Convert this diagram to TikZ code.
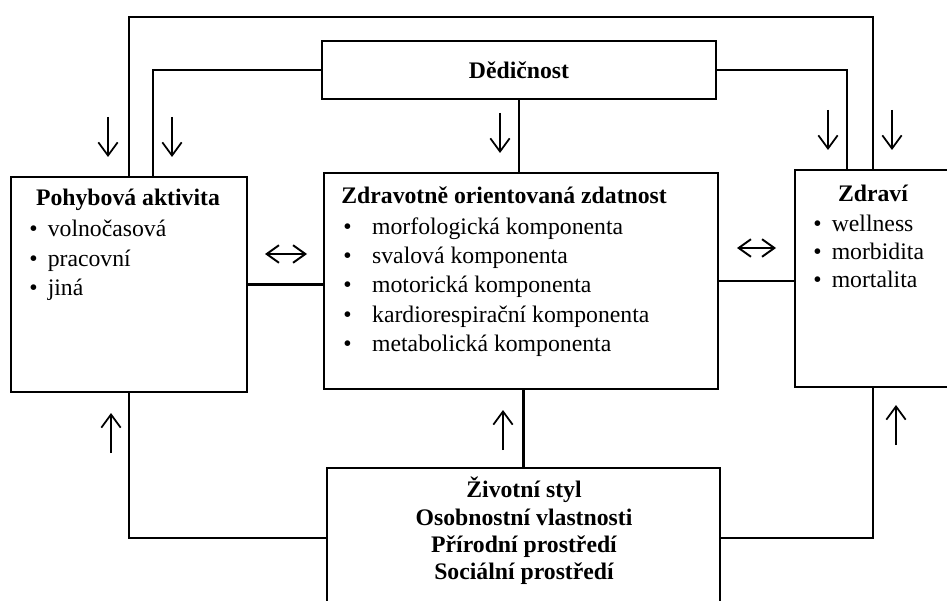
\documentclass[tikz,border=0pt]{standalone}
\usepackage{fontspec}
\setmainfont{Liberation Serif}
\usepackage{tikz}
\usetikzlibrary{arrows.meta,calc}

\tikzset{
  box/.style={draw, rectangle, line width=1.3pt, inner sep=0pt},
  txt/.style={inner sep=0pt, font=\fontsize{13.5}{16.7}\selectfont},
  nadpis/.style={inner sep=0pt, font=\fontsize{13.5}{16.7}\selectfont\bfseries},
  spoj/.style={line width=1.3pt},
  sipka/.style={line width=1pt, -{Straight Barb[length=7.5pt,width=11pt]}},
  obousipka/.style={line width=1.1pt,
    {Straight Barb[length=7pt,width=10pt]}-{Straight Barb[length=7pt,width=10pt]}}
}
\newcommand{\odr}{\makebox[10.5pt][l]{\textbullet}}
\newcommand{\odrs}{\makebox[16.4pt][l]{\textbullet}}

\begin{document}
\begin{tikzpicture}[x=0.02cm, y=-0.02cm]
    \useasboundingbox (0,0) rectangle (947,601);
    \clip (0,0) rectangle (947,601);

    % boxes
    \node[box, minimum width=7.88cm, minimum height=1.16cm, font=\fontsize{13.5}{16.7}\selectfont\bfseries]
        (dedic) at (519,70) {Dědičnost};
    \node[box, minimum width=4.72cm, minimum height=4.30cm] (pohyb) at (129,284.5) {};
    \node[box, minimum width=7.88cm, minimum height=4.32cm] (zdatnost) at (521,281) {};
    \node[box, minimum width=3.12cm, minimum height=4.34cm] (zdravi) at (873,278.5) {};
    \node[box, minimum width=7.86cm, minimum height=2.80cm] (styl) at (523.5,538) {};

    % texts
    \node[nadpis] (pohybT) at (128,200) {Pohybová aktivita};
    \node[txt, align=left, anchor=north west] (pohybL) at (29,220)
        {\odr volnočasová\\ \odr pracovní\\ \odr jiná};
    \node[nadpis, anchor=west] (zdatnostT) at (341,195) {Zdravotně orientovaná zdatnost};
    \node[txt, align=left, anchor=north west] (zdatnostL) at (343,217)
        {\odrs morfologická komponenta\\ \odrs svalová komponenta\\
         \odrs motorická komponenta\\ \odrs kardiorespirační komponenta\\
         \odrs metabolická komponenta};
    \node[nadpis] (zdraviT) at (873,193) {Zdraví};
    \node[txt, align=left, anchor=north west, font=\fontsize{13.5}{15.9}\selectfont]
        (zdraviL) at (813,215) {\odr wellness\\ \odr morbidita\\ \odr mortalita};
    \node[nadpis, align=center, font=\fontsize{13.5}{15.6}\selectfont\bfseries] (stylT) at (524,531)
        {Životní styl\\ Osobnostní vlastnosti\\ Přírodní prostředí\\ Sociální prostředí};

    % connectors
    \draw[spoj] (pohyb.north) -- ++(0,-159) -| (zdravi.north);
    \draw[spoj] ($(pohyb.north)+(24,0)$) |- (dedic.west);
    \draw[spoj] ($(zdravi.north)+(-26,0)$) |- (dedic.east);
    \draw[spoj] (dedic.south) -- (dedic.south |- zdatnost.north);
    \draw[spoj] (pohyb.east) -- (pohyb.east -| zdatnost.west);
    \draw[spoj] (zdatnost.east) -- (zdatnost.east -| zdravi.west);
    \draw[spoj] (styl.west) -| (pohyb.south);
    \draw[spoj] (styl.north) -- (styl.north |- zdatnost.south);
    \draw[spoj] (styl.east) -| (zdravi.south);

    % arrows
    \draw[sipka] (108,117) -- (108,157);
    \draw[sipka] (172,117) -- (172,157);
    \draw[sipka] (500,113) -- (500,153);
    \draw[sipka] (828,110) -- (828,150);
    \draw[sipka] (892,110) -- (892,150);
    \draw[sipka] (111,453) -- (111,413);
    \draw[sipka] (503,450) -- (503,410);
    \draw[sipka] (896,445) -- (896,405);
    \draw[obousipka] (265,254) -- (307,254);
    \draw[obousipka] (737,248) -- (776,248);
\end{tikzpicture}
\end{document}
